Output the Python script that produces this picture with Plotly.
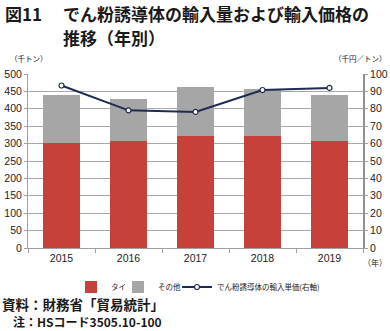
import plotly.graph_objects as go

years = ["2015", "2016", "2017", "2018", "2019"]
thai = [303, 307, 323, 321, 308]
other = [136, 121, 140, 137, 133]
unit_price = [93.4, 79.1, 78.2, 90.8, 92.0]

JP = "Noto Sans CJK JP"
NUM = "Liberation Sans"
RED = "#C8403A"
GRAY = "#A6A6A6"
NAVY = "#1F2A50"

W, H = 390, 331
L, R, T, B = 28, 27, 74, 83
PW, PH = W - L - R, H - T - B

fig = go.Figure()
fig.add_trace(go.Bar(x=years, y=thai, name="タイ", marker_color=RED, marker_line_width=0,
                     legend="legend"))
fig.add_trace(go.Bar(x=years, y=other, name="その他", marker_color=GRAY, marker_line_width=0,
                     legend="legend2"))
fig.add_trace(go.Scatter(x=years, y=unit_price, name="でん粉誘導体の輸入単価(右軸)", yaxis="y2",
                         mode="lines+markers", legend="legend3",
                         line=dict(color=NAVY, width=2),
                         marker=dict(symbol="circle", size=5, color="white",
                                     line=dict(color=NAVY, width=1.2))))


def leg(px):
    return dict(orientation="h", x=(px - L) / PW, xanchor="left",
                y=(H - B - 287) / PH, yanchor="middle",
                font=dict(family=JP, size=7.5, color="#222"),
                itemwidth=30, bgcolor="rgba(0,0,0,0)")


fig.update_layout(
    width=W, height=H,
    margin=dict(l=L, r=R, t=T, b=B, autoexpand=False),
    paper_bgcolor="white", plot_bgcolor="white",
    barmode="stack", bargap=0.45,
    showlegend=True,
    legend=leg(71), legend2=leg(118), legend3=leg(177),
    xaxis=dict(type="category", showline=True, linecolor="#A0A0A0", linewidth=1,
               ticks="outside", ticklen=4, tickcolor="#A0A0A0", tickson="boundaries",
               tickfont=dict(family=NUM, size=10.5, color="#222"), showgrid=False),
    yaxis=dict(range=[0, 500], dtick=50, showgrid=True, gridcolor="#A8A8A8", gridwidth=1,
               showline=True, linecolor="#A0A0A0", linewidth=1, ticks="outside", ticklen=3,
               tickcolor="#A0A0A0", zeroline=False,
               tickfont=dict(family=NUM, size=10.5, color="#222")),
    yaxis2=dict(range=[0, 100], dtick=10, overlaying="y", side="right", showgrid=False,
                showline=True, linecolor="#909090", linewidth=2, ticks="outside", ticklen=3,
                tickcolor="#A0A0A0", zeroline=False,
                tickfont=dict(family=NUM, size=10.5, color="#222")),
)

ann = [
    dict(text="<b>図11</b>", x=3, y=14, size=17, anchor="left"),
    dict(text="<b>でん粉誘導体の輸入量および輸入価格の</b>", x=61, y=14, size=17, anchor="left"),
    dict(text="<b>推移（年別）</b>", x=61, y=37, size=17, anchor="left"),
    dict(text="（千トン）", x=8, y=59, size=7.5, anchor="left"),
    dict(text="（千円／トン）", x=389, y=59, size=7.5, anchor="right"),
    dict(text="（年）", x=389, y=262, size=8, anchor="right"),
    dict(text="<b>資料：財務省「貿易統計」</b>", x=0, y=304, size=13.5, anchor="left"),
    dict(text="<b>注：HSコード3505.10-100</b>", x=11, y=321, size=12, anchor="left"),
]
for a in ann:
    fig.add_annotation(xref="paper", yref="paper", x=(a["x"] - L) / PW, y=(H - B - a["y"]) / PH,
                       xanchor=a["anchor"], yanchor="middle", showarrow=False, text=a["text"],
                       font=dict(family=JP, color="#1a1a1a", size=a["size"]))

fig.write_html("out.html")
